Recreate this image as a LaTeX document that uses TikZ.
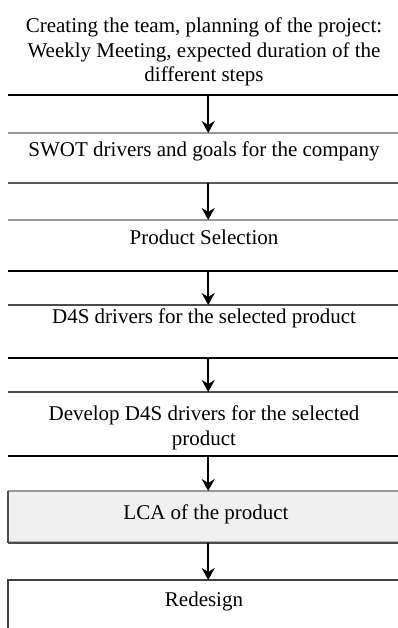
\documentclass[tikz,border=0pt]{standalone}
\usepackage{fontspec}
\setmainfont{Liberation Serif}
\usetikzlibrary{arrows.meta}
\begin{document}
\begin{tikzpicture}[x=1bp,y=-1bp,
  lbl/.style={font=\fontsize{21bp}{24.5bp}\selectfont, inner sep=0pt, anchor=base, align=center},
  stage/.style={inner sep=0pt, minimum width=400bp, anchor=north west},
  rule/.style={line width=2bp},
  arr/.style={line width=2bp, -{Stealth[length=12bp,width=13bp,inset=4bp]}}
]
\useasboundingbox (0,0) rectangle (397,628);

% stage frames (the right ends run past the page edge)
\node[stage, minimum height=110bp] (s1) at (8,-15) {};
\node[stage, minimum height=50bp]  (s2) at (8,133) {};
\node[stage, minimum height=51bp]  (s3) at (8,220) {};
\node[stage, minimum height=53bp]  (s4) at (8,305) {};
\node[stage, minimum height=64bp]  (s5) at (8,392) {};
\node[stage, minimum height=52bp]  (s6) at (8,491) {};
\node[stage, minimum height=80bp]  (s7) at (8,580) {};

% horizontal rules of the open stages
\draw[rule, black]        (s1.south west) -- (s1.south east);
\draw[rule, gray!80]      (s2.north west) -- (s2.north east);
\draw[rule, black!65]     (s2.south west) -- (s2.south east);
\draw[rule, gray!80]      (s3.north west) -- (s3.north east);
\draw[rule, black]        (s3.south west) -- (s3.south east);
\draw[rule, black!70]     (s4.north west) -- (s4.north east);
\draw[rule, black]        (s4.south west) -- (s4.south east);
\draw[rule, black!70]     (s5.north west) -- (s5.north east);
\draw[rule, black]        (s5.south west) -- (s5.south east);

% shaded LCA box
\fill[black!6] (s6.north west) rectangle (s6.south east);
\draw[rule, black!40]   (s6.north west) -- (s6.north east);
\draw[line width=1bp, black!30] ([yshift=2bp]s6.south west) -- ([yshift=2bp]s6.south east);
\draw[rule, black!70]   (s6.south west) -- (s6.south east);
\draw[rule, black!70]   (s6.north west) -- (s6.south west);

% redesign box
\draw[rule, black!75] (s7.south west) -- (s7.north west) -- (s7.north east);

% labels (multi-line labels sit on the baseline of their last line)
\node[lbl] (t1) at (204,82) {Creating the team, planning of the project:\\Weekly Meeting, expected duration of the\\different steps};
\node[lbl] (t2) at (204,157) {SWOT drivers and goals for the company};
\node[lbl] (t3) at (204,244) {Product Selection};
\node[lbl] (t4) at (204,323) {D4S drivers for the selected product};
\node[lbl] (t5) at (204,445) {Develop D4S drivers for the selected\\product};
\node[lbl] (t6) at (206,519) {LCA of the product};
\node[lbl] (t7) at (204,606) {Redesign};

% flow arrows
\draw[arr] (s1.south) -- (s2.north);
\draw[arr] (s2.south) -- (s3.north);
\draw[arr] (s3.south) -- (s4.north);
\draw[arr] (s4.south) -- (s5.north);
\draw[arr] (s5.south) -- (s6.north);
\draw[arr] (s6.south) -- (s7.north);
\end{tikzpicture}
\end{document}
